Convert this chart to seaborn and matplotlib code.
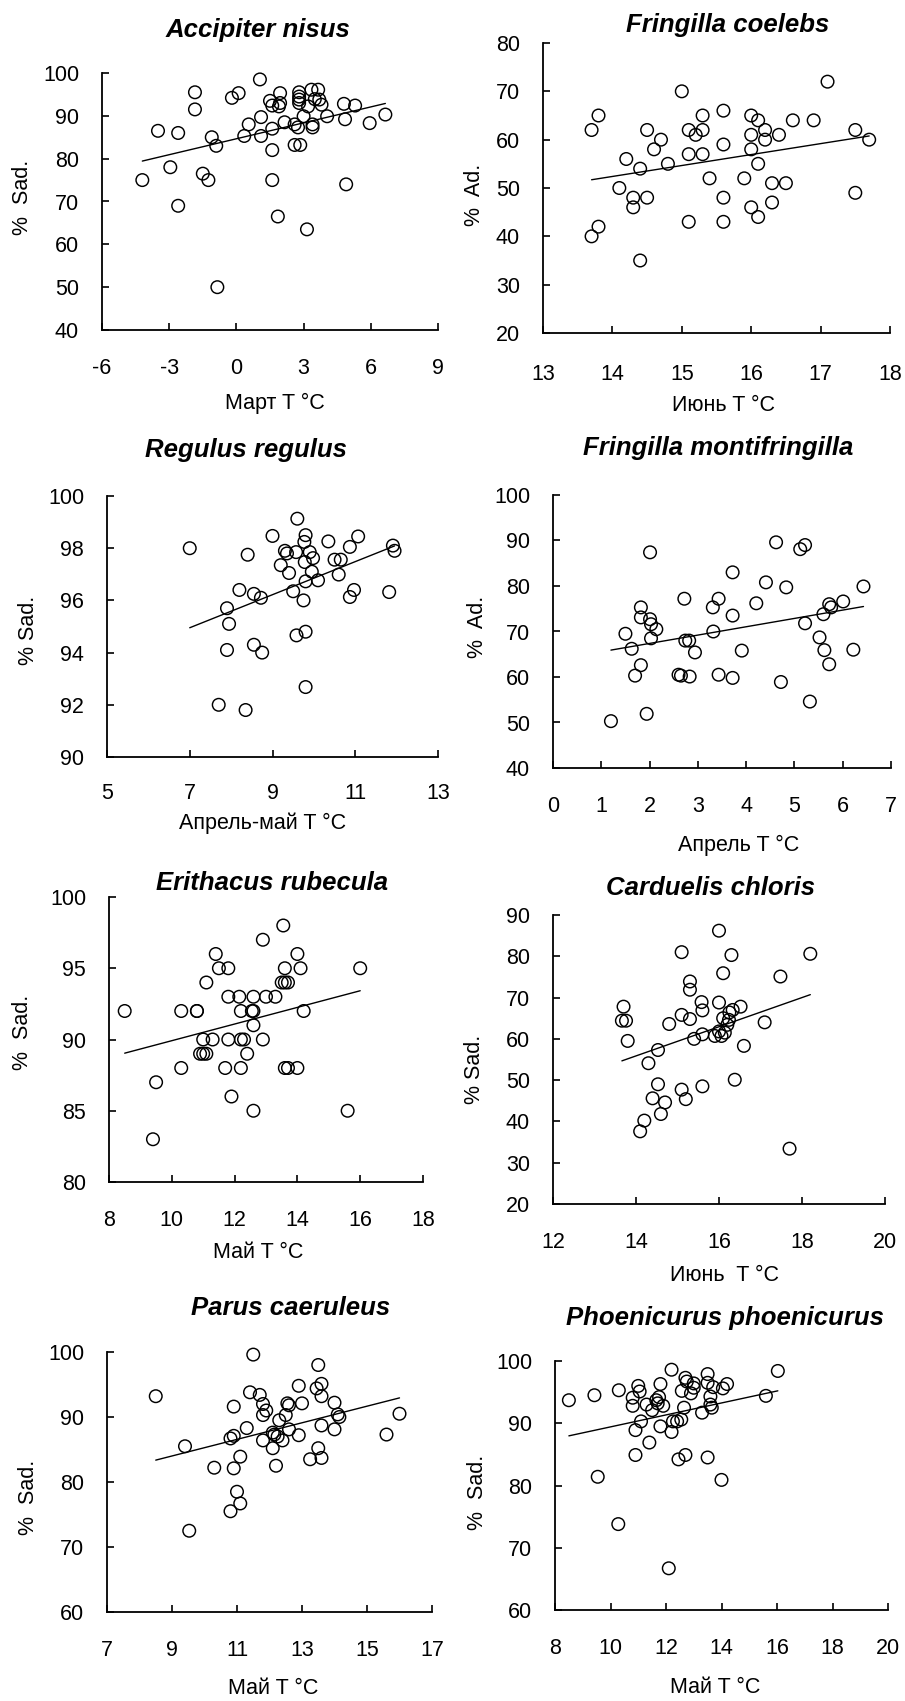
import numpy as np
import pandas as pd
import matplotlib
matplotlib.use("Agg")
import matplotlib.pyplot as plt
import seaborn as sns

# ---------------- data ----------------
titles = ["Accipiter nisus", "Fringilla coelebs", "Regulus regulus",
          "Fringilla montifringilla", "Erithacus rubecula", "Carduelis chloris",
          "Parus caeruleus", "Phoenicurus phoenicurus"]
xlabels = ["Март T °C", "Июнь T °C", "Апрель-май T °C", "Апрель T °C",
           "Май T °C", "Июнь  T °C", "Май T °C", "Май T °C"]
ylabels = ["%  Sad.", "%  Ad.", "% Sad.", "%  Ad.",
           "%  Sad.", "% Sad.", "%  Sad.", "%  Sad."]
xticks_list = [[-6, -3, 0, 3, 6, 9], [13, 14, 15, 16, 17, 18], [5, 7, 9, 11, 13],
               [0, 1, 2, 3, 4, 5, 6, 7], [8, 10, 12, 14, 16, 18], [12, 14, 16, 18, 20],
               [7, 9, 11, 13, 15, 17], [8, 10, 12, 14, 16, 18, 20]]
yticks_list = [[40, 50, 60, 70, 80, 90, 100], [20, 30, 40, 50, 60, 70, 80],
               [90, 92, 94, 96, 98, 100], [40, 50, 60, 70, 80, 90, 100],
               [80, 85, 90, 95, 100], [20, 30, 40, 50, 60, 70, 80, 90],
               [60, 70, 80, 90, 100], [60, 70, 80, 90, 100]]

accipiter_x = [-4.2, -3.5, -2.95, -2.6, -2.6, -1.85, -1.85, -1.5, -1.25, -1.1, -0.9, -0.85,
               -0.2, 0.1, 0.35, 0.55, 1.05, 1.1, 1.1, 1.5, 1.6, 1.6, 1.6, 1.6, 1.85, 1.95,
               1.95, 1.9, 2.15, 2.6, 2.6, 2.85, 2.75, 2.8, 2.8, 2.8, 2.8, 3.0, 3.15, 3.2,
               3.35, 3.4, 3.4, 3.5, 3.65, 3.7, 3.8, 4.05, 4.8, 4.85, 4.9, 5.3, 5.95, 6.65]
accipiter_y = [75, 86.5, 78, 86, 69, 95.5, 91.5, 76.5, 75, 85, 83, 50,
               94.2, 95.3, 85.3, 88, 98.5, 89.7, 85.3, 93.5, 92.4, 82, 75, 87, 66.5, 95.3,
               93, 92.2, 88.5, 88, 83.2, 83.2, 87.3, 95.5, 94.5, 93.8, 93, 89.9, 63.5, 92.2,
               96.1, 87.3, 88, 93.9, 96.1, 93.8, 92.6, 89.9, 92.8, 89.2, 74, 92.4, 88.3, 90.3]

coelebs_x = [13.7, 13.8, 13.7, 13.8, 14.2, 14.1, 14.3, 14.3, 14.4, 14.4, 14.5, 14.5, 14.6,
             14.7, 14.8, 15.0, 15.1, 15.1, 15.1, 15.2, 15.3, 15.3, 15.3, 15.4, 15.6, 15.6,
             15.6, 15.6, 15.9, 16.0, 16.0, 16.0, 16.0, 16.1, 16.1, 16.1, 16.2, 16.2, 16.3,
             16.3, 16.4, 16.5, 16.6, 16.9, 17.1, 17.5, 17.5, 17.7]
coelebs_y = [62, 65, 40, 42, 56, 50, 48, 46, 54, 35, 62, 48, 58,
             60, 55, 70, 62, 57, 43, 61, 65, 62, 57, 52, 66, 59,
             48, 43, 52, 65, 61, 58, 46, 64, 55, 44, 62, 60, 51,
             47, 61, 51, 64, 64, 72, 62, 49, 60]

regulus_x = [7.0, 7.7, 7.9, 7.95, 7.9, 8.2, 8.4, 8.35, 8.55, 8.55, 8.72, 8.75, 9.0, 9.2,
             9.3, 9.35, 9.4, 9.5, 9.57, 9.6, 9.58, 9.75, 9.77, 9.8, 9.8, 9.8, 9.78, 9.8,
             9.9, 9.95, 9.98, 10.1, 10.35, 10.5, 10.65, 10.6, 10.87, 10.87, 10.97, 11.07,
             11.82, 11.91, 11.95]
regulus_y = [98, 92, 95.7, 95.1, 94.1, 96.4, 97.75, 91.8, 96.25, 94.3, 96.1, 94.0, 98.47, 97.35,
             97.9, 97.8, 97.05, 96.35, 97.85, 99.13, 94.66, 96.0, 98.24, 98.5, 94.8, 92.68, 97.47, 96.73,
             97.85, 97.1, 97.62, 96.77, 98.26, 97.56, 97.56, 96.99, 98.05, 96.13, 96.4, 98.45,
             96.32, 98.1, 97.9]

montifringilla_x = [1.2, 1.5, 1.63, 1.7, 1.82, 1.82, 1.82, 1.94, 2.01, 2.01, 2.03, 2.03, 2.14,
                    2.6, 2.65, 2.72, 2.74, 2.82, 2.83, 2.94, 3.31, 3.32, 3.43, 3.43, 3.72, 3.72,
                    3.72, 3.91, 4.21, 4.41, 4.62, 4.72, 4.83, 5.12, 5.22, 5.22, 5.32, 5.52, 5.6,
                    5.62, 5.72, 5.72, 5.76, 6.01, 6.22, 6.43]
montifringilla_y = [50.3, 69.5, 66.2, 60.3, 75.3, 73.1, 62.6, 51.9, 87.4, 72.7, 71.6, 68.5, 70.5,
                    60.5, 60.3, 77.2, 68.0, 68.0, 60.1, 65.4, 75.3, 70.0, 77.2, 60.5, 83.0, 73.5,
                    59.8, 65.8, 76.2, 80.8, 89.6, 58.9, 79.7, 88.1, 89.0, 71.8, 54.6, 68.7, 73.8,
                    65.9, 62.8, 76.0, 75.3, 76.6, 66.0, 79.9]

rubecula_x = [8.5, 9.4, 9.5, 10.3, 10.3, 10.8, 10.8, 10.9, 11.0, 11.1, 11.0, 11.1, 11.3, 11.4,
              11.5, 11.8, 11.8, 11.8, 11.7, 11.9, 12.15, 12.2, 12.2, 12.2, 12.3, 12.4, 12.55,
              12.6, 12.6, 12.6, 12.6, 12.9, 12.9, 13.0, 13.3, 13.5, 13.55, 13.6, 13.6, 13.7,
              13.6, 13.7, 14.0, 14.1, 14.0, 14.2, 15.6, 16.0]
rubecula_y = [92, 83, 87, 92, 88, 92, 92, 89, 89, 89, 90, 94, 90, 96,
              95, 95, 93, 90, 88, 86, 93, 90, 92, 88, 90, 89, 92,
              93, 92, 91, 85, 97, 90, 93, 93, 94, 98, 95, 94, 94,
              88, 88, 96, 95, 88, 92, 85, 95]

chloris_x = [13.7, 13.66, 13.76, 13.8, 14.1, 14.2, 14.3, 14.4, 14.53, 14.53, 14.6, 14.7, 14.8,
             15.1, 15.1, 15.1, 15.2, 15.3, 15.3, 15.3, 15.4, 15.58, 15.6, 15.6, 15.6, 15.9,
             16.0, 16.0, 16.0, 16.06, 16.1, 16.1, 16.14, 16.2, 16.24, 16.25, 16.3, 16.33,
             16.38, 16.52, 16.6, 17.1, 17.48, 17.7, 18.2]
chloris_y = [67.8, 64.4, 64.4, 59.5, 37.6, 40.2, 54.1, 45.6, 57.3, 49.0, 41.8, 44.6, 63.6,
             81.0, 65.8, 47.7, 45.4, 73.9, 71.9, 64.8, 60.0, 68.9, 66.9, 61.1, 48.5, 60.7,
             86.2, 68.8, 61.8, 60.7, 75.9, 65.0, 61.5, 63.4, 64.6, 66.4, 80.3, 67.0,
             50.1, 67.8, 58.3, 64.0, 75.1, 33.4, 80.6]

caeruleus_x = [8.5, 9.4, 9.53, 10.3, 10.8, 10.8, 10.9, 10.9, 10.9, 11.0, 11.1, 11.1, 11.3,
               11.4, 11.5, 11.7, 11.8, 11.8, 11.8, 11.9, 12.1, 12.1, 12.15, 12.2, 12.25, 12.3,
               12.4, 12.5, 12.55, 12.6, 12.6, 12.9, 12.9, 13.0, 13.25, 13.45, 13.5, 13.5,
               13.6, 13.6, 13.6, 13.6, 14.0, 14.0, 14.1, 14.15, 15.6, 16.0]
caeruleus_y = [93.2, 85.5, 72.5, 82.2, 75.5, 86.7, 87.1, 91.6, 82.1, 78.5, 76.7, 83.9, 88.3,
               93.8, 99.6, 93.4, 92.0, 86.4, 90.3, 91.0, 85.2, 87.6, 87.3, 82.5, 87.0, 89.5,
               86.4, 90.3, 92.1, 88.1, 91.8, 94.8, 87.2, 92.1, 83.5, 94.4, 98.0, 85.2,
               95.1, 93.2, 88.7, 83.7, 92.2, 88.1, 90.4, 90.0, 87.3, 90.5]

phoenicurus_x = [8.5, 9.42, 9.54, 10.28, 10.3, 10.8, 10.8, 10.9, 10.9, 11.0, 11.05, 11.1, 11.3,
                 11.4, 11.5, 11.65, 11.7, 11.75, 11.8, 11.8, 11.9, 12.1, 12.2, 12.2, 12.25,
                 12.4, 12.45, 12.55, 12.57, 12.65, 12.7, 12.7, 12.75, 12.9, 13.0, 13.0, 13.3,
                 13.5, 13.5, 13.5, 13.6, 13.6, 13.65, 13.7, 14.0, 14.05, 14.2, 15.6, 16.03]
phoenicurus_y = [93.7, 94.5, 81.4, 73.8, 95.3, 94.1, 92.8, 88.9, 84.9, 96.0, 95.1, 90.3, 93.0,
                 86.9, 92.1, 93.7, 93.2, 94.2, 89.5, 96.3, 92.8, 66.7, 98.6, 88.6, 90.3,
                 90.3, 84.2, 90.6, 95.2, 92.5, 84.9, 97.3, 96.7, 94.8, 96.4, 95.7, 91.7,
                 97.9, 96.5, 84.5, 93.0, 94.3, 92.5, 95.8, 80.9, 95.6, 96.3, 94.4, 98.4]

xs = [accipiter_x, coelebs_x, regulus_x, montifringilla_x,
      rubecula_x, chloris_x, caeruleus_x, phoenicurus_x]
ys = [accipiter_y, coelebs_y, regulus_y, montifringilla_y,
      rubecula_y, chloris_y, caeruleus_y, phoenicurus_y]

# ---------------- layout (pixels in a 905x1701 figure) ----------------
W, H = 905, 1701
axes_px = [(102, 73, 438, 330), (543, 43, 890, 333), (107, 496, 438, 757), (553, 495, 891, 768),
           (109, 897, 423, 1182), (553, 915, 885, 1204), (107, 1352, 432, 1612), (555, 1361, 888, 1610)]
title_px = [(258, 30), (728, 25), (246, 450), (718, 448),
            (272, 883), (711, 888), (291, 1308), (725, 1318)]
xlabel_px = [(275, 403), (723, 405), (263, 823), (739, 845),
             (258, 1253), (724, 1275), (273, 1688), (715, 1687)]
ylabel_px = [(22, 197), (474, 195), (28, 630), (477, 627),
             (22, 1032), (474, 1069), (28, 1497), (477, 1492)]
xpads = [20.5, 22, 19, 20.5, 19.8, 19.8, 19.8, 20.5]

sns.set_style("white")
plt.rcParams['font.family'] = ['Liberation Sans', 'DejaVu Sans']
plt.rcParams['axes.unicode_minus'] = False

fig = plt.figure(figsize=(W / 100, H / 100), dpi=100)

for i in range(8):
    l, t, r, b = axes_px[i]
    ax = fig.add_axes([l / W, 1 - b / H, (r - l) / W, (b - t) / H])
    df = pd.DataFrame({"x": xs[i], "y": ys[i]})
    sns.regplot(data=df, x="x", y="y", ax=ax, ci=None, color="black", marker="o",
                scatter_kws=dict(s=82, facecolors="none", edgecolors="black",
                                 linewidths=1.05, alpha=1, clip_on=False, zorder=3),
                line_kws=dict(lw=1.0, color="black", clip_on=False))
    ax.set_xlim(xticks_list[i][0], xticks_list[i][-1])
    ax.set_ylim(yticks_list[i][0], yticks_list[i][-1])
    ax.set_xticks(xticks_list[i])
    ax.set_yticks(yticks_list[i])
    ax.set_xticklabels([str(v) for v in xticks_list[i]])
    ax.set_yticklabels([str(v) for v in yticks_list[i]])
    for s in ["top", "right"]:
        ax.spines[s].set_visible(False)
    for s in ["left", "bottom"]:
        ax.spines[s].set_linewidth(1.3)
        ax.spines[s].set_color("black")
    ax.tick_params(axis="x", direction="in", length=5, width=1.2, pad=xpads[i],
                   labelsize=15.5, colors="black", bottom=True)
    ax.tick_params(axis="y", direction="in", length=5, width=1.2, pad=16.5,
                   labelsize=15.5, colors="black", left=True)
    ax.set_xlabel(xlabels[i], fontsize=15.5, color="black")
    ax.set_ylabel(ylabels[i], fontsize=15.5, color="black")
    ax.xaxis.label.set_va("center")
    ax.yaxis.label.set_va("center")
    ax.xaxis.set_label_coords(xlabel_px[i][0] / W, 1 - xlabel_px[i][1] / H, transform=fig.transFigure)
    ax.yaxis.set_label_coords(ylabel_px[i][0] / W, 1 - ylabel_px[i][1] / H, transform=fig.transFigure)
    fig.text(title_px[i][0] / W, 1 - title_px[i][1] / H, titles[i], ha="center", va="center",
             fontsize=18.5, fontweight="bold", fontstyle="italic", color="black")

fig.savefig("out.png", dpi=100, facecolor="white")
